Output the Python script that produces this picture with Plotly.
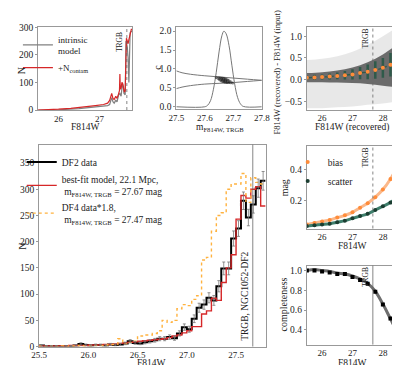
import numpy as np
import plotly.graph_objects as go

FONT = "Liberation Serif"
TRGB = 27.67

# ---------- panel 1: model luminosity function ----------
p1_int_x = [25.5, 26.0, 26.5, 27.0, 27.2, 27.25, 27.3, 27.33, 27.36, 27.40, 27.43, 27.47, 27.50, 27.53,
            27.56, 27.58, 27.60, 27.63, 27.65, 27.68, 27.70, 27.72, 27.73, 27.75, 27.78, 27.80]
p1_int_y = [0, 1, 5, 12, 16, 20, 45, 30, 25, 35, 30, 55, 60, 50,
            95, 85, 60, 55, 250, 230, 190, 100, 240, 280, 285, 285]
p1_con_x = [25.5, 25.8, 26.0, 26.3, 26.6, 26.9, 27.1, 27.2, 27.25, 27.28, 27.30, 27.33, 27.36, 27.40,
            27.43, 27.46, 27.49, 27.50, 27.51, 27.53, 27.55, 27.57, 27.59, 27.61, 27.63, 27.64, 27.66,
            27.68, 27.70, 27.72, 27.74, 27.76, 27.78, 27.80]
p1_con_y = [0, 1, 3, 6, 10, 16, 20, 25, 35, 55, 60, 42, 38, 50,
            42, 55, 70, 130, 75, 80, 100, 95, 75, 65, 70, 230, 260,
            250, 240, 255, 270, 290, 292, 292]

# ---------- panel 2: posterior ----------
p2_gauss_x = [27.50, 27.60, 27.61, 27.62, 27.63, 27.64, 27.65, 27.66, 27.667, 27.675, 27.685,
              27.695, 27.705, 27.715, 27.725, 27.735, 27.80]
p2_gauss_y = [0.0, 0.0, 0.04, 0.16, 0.45, 0.90, 1.45, 1.88, 2.00, 1.93, 1.62,
              1.10, 0.60, 0.25, 0.08, 0.01, 0.0]
p2_c_x = [27.50, 27.52, 27.55, 27.60, 27.65, 27.70, 27.75, 27.80]
p2_c_upper = [0.95, 0.90, 0.86, 0.82, 0.79, 0.76, 0.73, 0.70]
p2_c_lower = [0.48, 0.52, 0.56, 0.60, 0.62, 0.64, 0.67, 0.70]
blob_x = [27.640, 27.648, 27.655, 27.662, 27.668, 27.675, 27.682, 27.690, 27.698]
blob_y = [0.775, 0.755, 0.735, 0.715, 0.700, 0.685, 0.670, 0.650, 0.630]
blob_s = [3, 4, 5, 6, 6, 6, 5, 4, 3]

# ---------- panel 3/5/6: artificial star tests ----------
ast_mag = [25.5, 25.75, 26.0, 26.25, 26.5, 26.75, 27.0, 27.25, 27.5, 27.75, 28.0, 28.25, 28.5]
bias = [0.04, 0.05, 0.06, 0.07, 0.085, 0.10, 0.12, 0.15, 0.18, 0.22, 0.27, 0.34, 0.43]
scatter = [0.03, 0.035, 0.04, 0.045, 0.055, 0.065, 0.08, 0.095, 0.11, 0.135, 0.16, 0.185, 0.225]
p3_err = [0.05, 0.06, 0.06, 0.07, 0.08, 0.10, 0.12, 0.14, 0.17, 0.20, 0.23, 0.27, 0.32]
cloud_x = [25.5, 26.0, 26.5, 27.0, 27.5, 28.0, 28.5]
outer_lo = [-0.66, -0.66, -0.64, -0.62, -0.58, -0.55, -0.50]
outer_hi = [0.45, 0.48, 0.54, 0.64, 0.80, 1.00, 1.22]
core_lo = [-0.06, -0.06, -0.07, -0.08, -0.10, -0.14, -0.18]
core_hi = [0.15, 0.17, 0.21, 0.28, 0.40, 0.58, 0.82]
completeness = [1.0, 1.0, 0.99, 0.98, 0.965, 0.965, 0.935, 0.905, 0.865, 0.785, 0.655, 0.515, 0.385]
completeness_fit = [1.0, 1.01, 1.0, 0.99, 0.975, 0.965, 0.945, 0.915, 0.87, 0.79, 0.66, 0.51, 0.36]

# ---------- panel 4: observed LF ----------
bin_lo = np.round(25.5 + 0.05 * np.arange(46), 2)
bin_hi_end = 27.80
df2 = [2, 1, 1, 1, 0, 1, 1, 2, 5, 3,
       2, 3, 3, 2, 4, 3, 4, 6, 10, 7,
       6, 8, 10, 12, 15, 15, 18, 16, 25, 37,
       33, 53, 74, 80, 93, 88, 115, 149, 149, 206,
       225, 278, 246, 271, 302, 316]
df2_err = [1.4, 1, 1, 1, 0, 1, 1, 1.4, 2.2, 1.7,
           1.4, 1.7, 1.7, 1.4, 2, 1.7, 2, 2.4, 3.2, 2.6,
           2.4, 2.8, 3.2, 3.5, 3.9, 3.9, 4.2, 4, 5, 6.1,
           5.7, 7.3, 8.6, 8.9, 9.6, 9.4, 10.7, 12.2, 12.2, 14.4,
           15, 16.7, 15.7, 16.5, 17.4, 17.8]
model = [1, 1, 1, 1, 1, 1, 2, 2, 2, 2,
         3, 3, 3, 4, 4, 5, 6, 7, 8, 9,
         10, 11, 12, 13, 14, 15, 17, 20, 22, 26,
         30, 38, 38, 62, 68, 92, 88, 122, 150, 175,
         243, 288, 283, 300, 305, 268]
df4 = [1, 0, 1, 0, 1, 0, 1, 1, 2, 1,
       1, 2, 2, 3, 4, 4, 15, 5, 8, 10,
       20, 22, 22, 25, 30, 50, 46, 50, 72, 80,
       78, 90, 97, 165, 170, 220, 250, 255, 300, 310,
       310, 330, 275, 322, 313, 310]

# tick labels of the x axes
ticks_p1 = [26, 27]
ticks_p2 = [27.5, 27.6, 27.7, 27.8]
ticks_ast = [26, 27, 28]
ticks_p4 = [25.5, 26.0, 26.5, 27.0, 27.5]

fig = go.Figure()

# panel 1
fig.add_trace(go.Scatter(x=p1_int_x, y=p1_int_y, mode="lines", line=dict(color="#808080", width=1.2),
                         name="intrinsic<br>model", xaxis="x", yaxis="y", legend="legend2"))
fig.add_trace(go.Scatter(x=p1_con_x, y=p1_con_y, mode="lines", line=dict(color="#d62728", width=1.2),
                         name="+N<sub>contam</sub>", xaxis="x", yaxis="y", legend="legend2"))

# panel 2
fig.add_trace(go.Scatter(x=p2_gauss_x, y=p2_gauss_y, mode="lines", line=dict(color="#777", width=1, shape="spline"),
                         showlegend=False, xaxis="x2", yaxis="y2"))
fig.add_trace(go.Scatter(x=p2_c_x, y=p2_c_upper, mode="lines", line=dict(color="#777", width=1, shape="spline"),
                         showlegend=False, xaxis="x2", yaxis="y2"))
fig.add_trace(go.Scatter(x=p2_c_x, y=p2_c_lower, mode="lines", line=dict(color="#777", width=1, shape="spline"),
                         showlegend=False, xaxis="x2", yaxis="y2"))
fig.add_trace(go.Scatter(x=blob_x, y=blob_y, mode="markers",
                         marker=dict(color="black", size=blob_s, opacity=0.45, line=dict(width=0)),
                         showlegend=False, xaxis="x2", yaxis="y2"))

# panel 3
fig.add_trace(go.Scatter(x=cloud_x, y=outer_lo, mode="lines", line=dict(width=0, shape="spline"),
                         showlegend=False, xaxis="x3", yaxis="y3", hoverinfo="skip"))
fig.add_trace(go.Scatter(x=cloud_x, y=outer_hi, mode="lines", line=dict(width=0, shape="spline"),
                         fill="tonexty", fillcolor="rgba(0,0,0,0.09)",
                         showlegend=False, xaxis="x3", yaxis="y3", hoverinfo="skip"))
fig.add_trace(go.Scatter(x=cloud_x, y=core_lo, mode="lines", line=dict(width=0, shape="spline"),
                         showlegend=False, xaxis="x3", yaxis="y3", hoverinfo="skip"))
fig.add_trace(go.Scatter(x=cloud_x, y=core_hi, mode="lines", line=dict(width=0, shape="spline"),
                         fill="tonexty", fillcolor="rgba(75,75,75,0.8)",
                         showlegend=False, xaxis="x3", yaxis="y3", hoverinfo="skip"))
fig.add_trace(go.Scatter(x=ast_mag, y=bias, mode="lines", line=dict(color="#2f5a4a", width=1.3, dash="dash", shape="spline"),
                         showlegend=False, xaxis="x3", yaxis="y3"))
fig.add_trace(go.Scatter(x=ast_mag, y=bias, mode="markers",
                         marker=dict(color="#ff8c3a", size=4),
                         error_y=dict(type="data", array=p3_err, color="#2f5a4a", thickness=2.5, width=0),
                         showlegend=False, xaxis="x3", yaxis="y3"))

# panel 4
step_x = list(bin_lo) + [bin_hi_end]
fig.add_trace(go.Scatter(x=step_x, y=df2 + [df2[-1]], mode="lines", line=dict(color="black", width=2, shape="hv"),
                         name="DF2 data", xaxis="x4", yaxis="y4", legend="legend"))
fig.add_trace(go.Scatter(x=step_x, y=model + [model[-1]], mode="lines", line=dict(color="#d62728", width=1.4, shape="hv"),
                         name="best-fit model, 22.1 Mpc,<br> m<sub>F814W, TRGB</sub> = 27.67 mag",
                         xaxis="x4", yaxis="y4", legend="legend"))
fig.add_trace(go.Scatter(x=step_x, y=df4 + [df4[-1]], mode="lines",
                         line=dict(color="#ffb23f", width=1.4, shape="hv", dash="dot"),
                         name="DF4 data*1.8,<br> m<sub>F814W, TRGB</sub> = 27.47 mag",
                         xaxis="x4", yaxis="y4", legend="legend"))
fig.add_trace(go.Scatter(x=list(bin_lo + 0.025), y=df2, mode="markers", marker=dict(size=0.1, color="#777"),
                         error_y=dict(type="data", array=df2_err, color="#777", thickness=0.8, width=1.5),
                         showlegend=False, xaxis="x4", yaxis="y4"))

# panel 5
fig.add_trace(go.Scatter(x=ast_mag, y=bias, mode="lines", line=dict(color="#fbb88a", width=3, shape="spline"),
                         showlegend=False, xaxis="x5", yaxis="y5"))
fig.add_trace(go.Scatter(x=ast_mag, y=scatter, mode="lines", line=dict(color="#3f7f6c", width=3, shape="spline"),
                         showlegend=False, xaxis="x5", yaxis="y5"))
fig.add_trace(go.Scatter(x=ast_mag, y=bias, mode="markers", marker=dict(color="#ff8c3a", size=4),
                         name="bias", xaxis="x5", yaxis="y5", legend="legend3"))
fig.add_trace(go.Scatter(x=ast_mag, y=scatter, mode="markers", marker=dict(color="#1b3d31", size=4),
                         name="scatter", xaxis="x5", yaxis="y5", legend="legend3"))

# panel 6
fig.add_trace(go.Scatter(x=ast_mag, y=completeness_fit, mode="lines", line=dict(color="#6e6e6e", width=3, shape="spline"),
                         showlegend=False, xaxis="x6", yaxis="y6"))
fig.add_trace(go.Scatter(x=ast_mag, y=completeness, mode="markers", marker=dict(color="black", size=4, symbol="square"),
                         showlegend=False, xaxis="x6", yaxis="y6"))

W, H = 400, 365
def dx(a, b):
    return [a / W, b / W]
def dy(top, bot):
    return [1 - bot / H, 1 - top / H]

def ax(domain, rng, anchor, tickvals=None, ticktext=None, is_x=True):
    d = dict(domain=domain, range=rng, anchor=anchor, showline=True, linecolor="#999", linewidth=1,
             mirror=True, ticks="outside", ticklen=2, tickcolor="#999", showgrid=False, zeroline=False,
             tickfont=dict(size=9.5, color="#222"))
    if is_x:
        d["ticklen"] = 0
        d["tickfont"] = dict(size=9, color="#222")
    if tickvals is not None:
        d["tickvals"] = tickvals
    if ticktext is not None:
        d["ticktext"] = ticktext
    return d

legend_common = dict(xanchor="left", yanchor="top", bgcolor="rgba(0,0,0,0)", tracegroupgap=0,
                     itemwidth=30, traceorder="normal")
layout = dict(
    width=W, height=H, margin=dict(l=0, r=0, t=0, b=0),
    paper_bgcolor="white", plot_bgcolor="white",
    font=dict(family=FONT, size=10, color="#222"),
    xaxis=ax(dx(23, 121), [25.5, 27.8], "y", ticks_p1),
    yaxis=ax(dy(15, 100.5), [0, 302], "x", [0, 100, 200, 300], is_x=False),
    xaxis2=ax(dx(167, 256), [27.5, 27.8], "y2", ticks_p2, ["27.5", "27.6", "27.7", "27.8"]),
    yaxis2=ax(dy(15, 99.5), [-0.06, 2.12], "x2", [0, 0.5, 1.0, 1.5, 2.0], ["0.0", "0.5", "1.0", "1.5", "2.0"], is_x=False),
    xaxis3=ax(dx(303, 398), [25.5, 28.5], "y3", ticks_ast),
    yaxis3=ax(dy(15, 100), [-0.69, 1.22], "x3", [-0.5, 0, 0.5, 1.0], ["\u22120.5", "0.0", "0.5", "1.0"], is_x=False),
    xaxis4=ax(dx(24, 260), [25.5, 27.8], "y4", ticks_p4, ["25.5", "26.0", "26.5", "27.0", "27.5"]),
    yaxis4=ax(dy(136, 343), [0, 385], "x4", [0, 50, 100, 150, 200, 250, 300, 350], is_x=False),
    xaxis5=ax(dx(303, 398), [25.5, 28.5], "y5", ticks_ast),
    yaxis5=ax(dy(137, 222), [0.013, 0.56], "x5", [0.2, 0.4], ["0.2", "0.4"], is_x=False),
    xaxis6=ax(dx(303, 398), [25.5, 28.5], "y6", ticks_ast),
    yaxis6=ax(dy(260, 341), [0.25, 1.05], "x6", [0.4, 0.6, 0.8, 1.0], ["0.4", "0.6", "0.8", "1.0"], is_x=False),
    legend=dict(x=6 / W, y=1 - 139 / H, font=dict(size=9.5), **legend_common),
    legend2=dict(x=2 / W, y=1 - 15 / H, font=dict(size=9), **legend_common),
    legend3=dict(x=283 / W, y=1 - 139 / H, font=dict(size=9.5), **legend_common),
)
fig.update_layout(**layout)

shapes = []
annots = []
for xa, ya, dash, lbl_y, txt, tsize in [("x", "y", "dot", 0.82, "TRGB", 7.5),
                                        ("x3", "y3", "dot", 0.86, "TRGB", 7.5),
                                        ("x4", "y4", "solid", 0.25, "TRGB, NGC1052-DF2", 9.5),
                                        ("x5", "y5", "dot", 0.86, "TRGB", 7.5),
                                        ("x6", "y6", "solid", 0.86, "TRGB", 7.5)]:
    shapes.append(dict(type="line", xref=xa, yref=ya + " domain", x0=TRGB, x1=TRGB, y0=0, y1=1,
                       line=dict(color="#666", width=0.8, dash=dash)))
    annots.append(dict(x=TRGB, y=lbl_y, xref=xa, yref=ya + " domain", text=txt, textangle=-90,
                       showarrow=False, xanchor="right", yanchor="middle", xshift=-1,
                       font=dict(size=tsize, color="#222")))

# axis titles (pixel positions of the reference)
titles = [
    ("N", 6, 60, -90, 10), ("F814W", 72, 118, 0, 9.5),
    ("c", 148, 57, -90, 10), ("m<sub>F814W, TRGB</sub>", 212, 118, 0, 9.5),
    ("F814W (recovered) - F814W (input)", 272, 62, -90, 8.5), ("F814W (recovered)", 350, 118, 0, 9.5),
    ("N", 6, 240, -90, 10), ("F814W", 141, 360, 0, 9.5),
    ("mag", 280, 180, -90, 10), ("F814W", 350, 240, 0, 9.5),
    ("completeness", 279, 300, -90, 10), ("F814W", 350, 360, 0, 9.5),
]
for txt, px, py, ang, sz in titles:
    annots.append(dict(x=px / W, y=1 - py / H, xref="paper", yref="paper", text=txt, textangle=ang,
                       showarrow=False, xanchor="center", yanchor="middle", font=dict(size=sz, color="#222")))
fig.update_layout(shapes=shapes, annotations=annots)

fig.write_html("out.html")
